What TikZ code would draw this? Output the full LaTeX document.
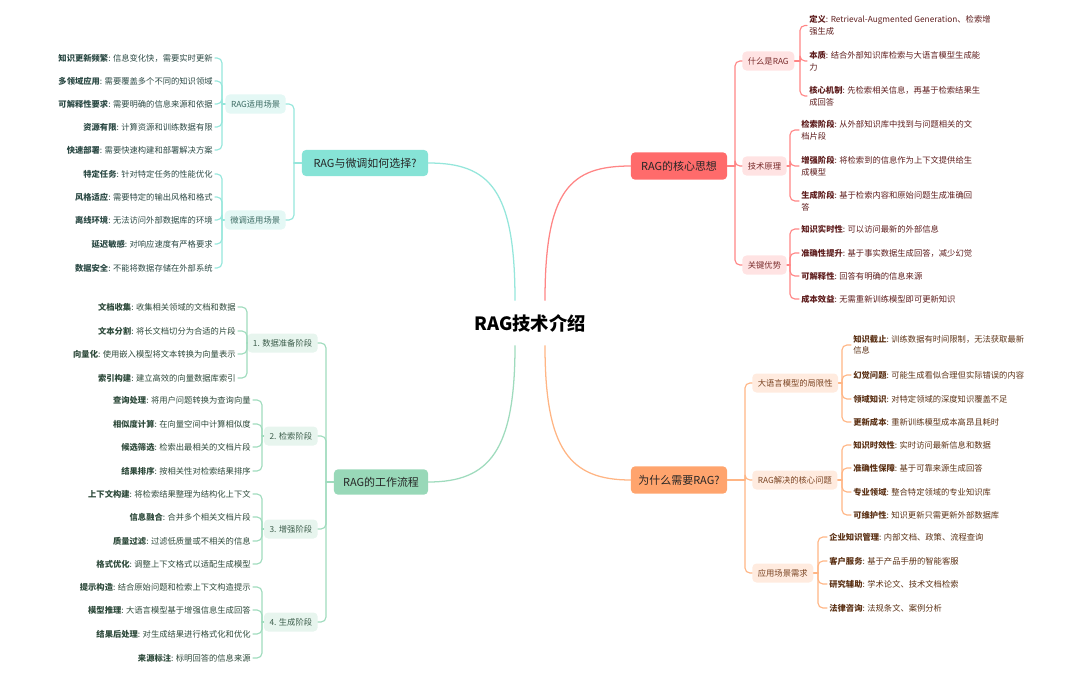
\documentclass[tikz,border=0pt]{standalone}
\usepackage{fontspec}
\setmainfont{Noto Sans CJK SC}
\usetikzlibrary{calc}

\definecolor{redfill}{HTML}{FF6B6B}
\definecolor{redln}{HTML}{FF8585}
\definecolor{redsoft}{HTML}{FFE3E3}
\definecolor{redsubtx}{HTML}{7A2C2C}
\definecolor{redtx}{HTML}{5E1D1D}
\definecolor{tealfill}{HTML}{86E3D6}
\definecolor{tealln}{HTML}{95E6DB}
\definecolor{tealsoft}{HTML}{E4F8F5}
\definecolor{tealsubtx}{HTML}{3C6B63}
\definecolor{tealtx}{HTML}{2C4A45}
\definecolor{greenfill}{HTML}{98D8B8}
\definecolor{greenln}{HTML}{9FDBBD}
\definecolor{greensoft}{HTML}{E7F5EE}
\definecolor{greensubtx}{HTML}{3D5E4C}
\definecolor{greentx}{HTML}{2E4A3B}
\definecolor{orangefill}{HTML}{FFA46D}
\definecolor{orangeln}{HTML}{FFB584}
\definecolor{orangesoft}{HTML}{FFEBDF}
\definecolor{orangesubtx}{HTML}{7B4422}
\definecolor{orangetx}{HTML}{5C3216}

\begin{document}
\begin{tikzpicture}[
  x=0.025cm,
  y=-0.025cm,
  line cap=round,
  line join=round,
  font=\fontsize{5.9}{8.2}\selectfont,
  title/.style={
    font=\fontsize{13}{15}\selectfont\bfseries,
    text=black,
    minimum height=1.125cm,
    inner sep=0pt
  },
  branch/.style={
    rounded corners=2.8pt,
    minimum height=0.68cm,
    inner sep=0pt,
    font=\fontsize{7.8}{9}\selectfont,
    text=black!85
  },
  sub/.style={
    rounded corners=3pt,
    minimum height=0.475cm,
    inner xsep=0.14cm,
    inner ysep=0pt
  },
  leaf/.style={align=left, inner xsep=1.5pt, inner ysep=1pt},
  link/.style={line width=0.8pt, rounded corners=3.5pt},
  stem/.style={line width=0.9pt},
  rsub/.style={sub, fill=redsoft, text=redsubtx, anchor=west},
  rleaf/.style={leaf, text=redtx, anchor=west},
  rlink/.style={link, draw=redln},
  tsub/.style={sub, fill=tealsoft, text=tealsubtx, anchor=east},
  tleaf/.style={leaf, text=tealtx, anchor=east},
  tlink/.style={link, draw=tealln},
  gsub/.style={sub, fill=greensoft, text=greensubtx, anchor=east},
  gleaf/.style={leaf, text=greentx, anchor=east},
  glink/.style={link, draw=greenln},
  osub/.style={sub, fill=orangesoft, text=orangesubtx, anchor=west},
  oleaf/.style={leaf, text=orangetx, anchor=west},
  olink/.style={link, draw=orangeln}
]
\useasboundingbox (0,0) rectangle (1080,677);

\node[title] (root) at (530,323) {RAG技术介绍};

% RAG的核心思想 (upper right)
\node[branch, fill=redfill, minimum width=2.4cm] (rmain) at (679,166) {RAG的核心思想};
\draw[stem, draw=redln] ($(root.north)+(15,0)$) .. controls (545,190) and (570,166) .. (rmain.west);

\coordinate (rj) at (735,166);
\node[rsub] (r1) at (742,61) {什么是RAG};
\node[rsub] (r2) at (742,166) {技术原理};
\node[rsub] (r3) at (742,265) {关键优势};
\draw[rlink] (rmain.east) -- (rj);
\draw[rlink] (rj) |- (r1.west);
\draw[rlink] (rj) |- (r2.west);
\draw[rlink] (rj) |- (r3.west);

\coordinate (r1j) at (800,61);
\node[rleaf] (r1a) at (807,25.5) {\textbf{定义}: Retrieval-Augmented Generation、检索增\\强生成};
\node[rleaf] (r1b) at (807,61) {\textbf{本质}: 结合外部知识库检索与大语言模型生成能\\力};
\node[rleaf] (r1c) at (807,96) {\textbf{核心机制}: 先检索相关信息，再基于检索结果生\\成回答};
\draw[rlink] (r1.east) -- (r1j);
\draw[rlink] (r1j) |- (r1a.west);
\draw[rlink] (r1j) |- (r1b.west);
\draw[rlink] (r1j) |- (r1c.west);

\coordinate (r2j) at (790,166);
\node[rleaf] (r2a) at (799,130) {\textbf{检索阶段}: 从外部知识库中找到与问题相关的文\\档片段};
\node[rleaf] (r2b) at (799,166) {\textbf{增强阶段}: 将检索到的信息作为上下文提供给生\\成模型};
\node[rleaf] (r2c) at (799,201) {\textbf{生成阶段}: 基于检索内容和原始问题生成准确回\\答};
\draw[rlink] (r2.east) -- (r2j);
\draw[rlink] (r2j) |- (r2a.west);
\draw[rlink] (r2j) |- (r2b.west);
\draw[rlink] (r2j) |- (r2c.west);

\coordinate (r3j) at (790,265);
\node[rleaf] (r3a) at (799,229) {\textbf{知识实时性}: 可以访问最新的外部信息};
\node[rleaf] (r3b) at (799,253) {\textbf{准确性提升}: 基于事实数据生成回答，减少幻觉};
\node[rleaf] (r3c) at (799,276) {\textbf{可解释性}: 回答有明确的信息来源};
\node[rleaf] (r3d) at (799,299) {\textbf{成本效益}: 无需重新训练模型即可更新知识};
\draw[rlink] (r3.east) -- (r3j);
\draw[rlink] (r3j) |- (r3a.west);
\draw[rlink] (r3j) |- (r3b.west);
\draw[rlink] (r3j) |- (r3c.west);
\draw[rlink] (r3j) |- (r3d.west);

% 为什么需要RAG? (lower right)
\node[branch, fill=orangefill, minimum width=2.4cm] (omain) at (679,480) {为什么需要RAG?};
\draw[stem, draw=orangeln] ($(root.south)+(15,0)$) .. controls (545,450) and (570,480) .. (omain.west);

\coordinate (oj) at (745,480);
\node[osub] (o1) at (752,383) {大语言模型的局限性};
\node[osub] (o2) at (752,480) {RAG解决的核心问题};
\node[osub] (o3) at (752,573) {应用场景需求};
\draw[olink] (omain.east) -- (oj);
\draw[olink] (oj) |- (o1.west);
\draw[olink] (oj) |- (o2.west);
\draw[olink] (oj) |- (o3.west);

\coordinate (o1j) at (842,383);
\node[oleaf] (o1a) at (851,345) {\textbf{知识截止}: 训练数据有时间限制，无法获取最新\\信息};
\node[oleaf] (o1b) at (851,375) {\textbf{幻觉问题}: 可能生成看似合理但实际错误的内容};
\node[oleaf] (o1c) at (851,399) {\textbf{领域知识}: 对特定领域的深度知识覆盖不足};
\node[oleaf] (o1d) at (851,422) {\textbf{更新成本}: 重新训练模型成本高昂且耗时};
\draw[olink] (o1.east) -- (o1j);
\draw[olink] (o1j) |- (o1a.west);
\draw[olink] (o1j) |- (o1b.west);
\draw[olink] (o1j) |- (o1c.west);
\draw[olink] (o1j) |- (o1d.west);

\coordinate (o2j) at (842,480);
\node[oleaf] (o2a) at (851,445) {\textbf{知识时效性}: 实时访问最新信息和数据};
\node[oleaf] (o2b) at (851,468) {\textbf{准确性保障}: 基于可靠来源生成回答};
\node[oleaf] (o2c) at (851,492) {\textbf{专业领域}: 整合特定领域的专业知识库};
\node[oleaf] (o2d) at (851,515) {\textbf{可维护性}: 知识更新只需更新外部数据库};
\draw[olink] (o2.east) -- (o2j);
\draw[olink] (o2j) |- (o2a.west);
\draw[olink] (o2j) |- (o2b.west);
\draw[olink] (o2j) |- (o2c.west);
\draw[olink] (o2j) |- (o2d.west);

\coordinate (o3j) at (818,573);
\node[oleaf] (o3a) at (827,537) {\textbf{企业知识管理}: 内部文档、政策、流程查询};
\node[oleaf] (o3b) at (827,561) {\textbf{客户服务}: 基于产品手册的智能客服};
\node[oleaf] (o3c) at (827,584) {\textbf{研究辅助}: 学术论文、技术文档检索};
\node[oleaf] (o3d) at (827,608) {\textbf{法律咨询}: 法规条文、案例分析};
\draw[olink] (o3.east) -- (o3j);
\draw[olink] (o3j) |- (o3a.west);
\draw[olink] (o3j) |- (o3b.west);
\draw[olink] (o3j) |- (o3c.west);
\draw[olink] (o3j) |- (o3d.west);

% RAG与微调如何选择? (upper left)
\node[branch, fill=tealfill, minimum width=3.15cm, minimum height=0.65cm] (tmain) at (365,163) {RAG与微调如何选择?};
\draw[stem, draw=tealln] ($(root.north)+(-15,0)$) .. controls (515,190) and (490,163) .. (tmain.east);

\coordinate (tj) at (294,163);
\node[tsub] (t1) at (286,104) {RAG适用场景};
\node[tsub] (t2) at (286,220) {微调适用场景};
\draw[tlink] (tmain.west) -- (tj);
\draw[tlink] (tj) |- (t1.east);
\draw[tlink] (tj) |- (t2.east);

\coordinate (t1j) at (222,104);
\node[tleaf] (t1a) at (215,58) {\textbf{知识更新频繁}: 信息变化快，需要实时更新};
\node[tleaf] (t1b) at (215,81) {\textbf{多领域应用}: 需要覆盖多个不同的知识领域};
\node[tleaf] (t1c) at (215,104) {\textbf{可解释性要求}: 需要明确的信息来源和依据};
\node[tleaf] (t1d) at (215,127) {\textbf{资源有限}: 计算资源和训练数据有限};
\node[tleaf] (t1e) at (215,150) {\textbf{快速部署}: 需要快速构建和部署解决方案};
\draw[tlink] (t1.west) -- (t1j);
\draw[tlink] (t1j) |- (t1a.east);
\draw[tlink] (t1j) |- (t1b.east);
\draw[tlink] (t1j) |- (t1c.east);
\draw[tlink] (t1j) |- (t1d.east);
\draw[tlink] (t1j) |- (t1e.east);

\coordinate (t2j) at (222,220);
\node[tleaf] (t2a) at (215,174) {\textbf{特定任务}: 针对特定任务的性能优化};
\node[tleaf] (t2b) at (215,197) {\textbf{风格适应}: 需要特定的输出风格和格式};
\node[tleaf] (t2c) at (215,220) {\textbf{离线环境}: 无法访问外部数据库的环境};
\node[tleaf] (t2d) at (215,244) {\textbf{延迟敏感}: 对响应速度有严格要求};
\node[tleaf] (t2e) at (215,268) {\textbf{数据安全}: 不能将数据存储在外部系统};
\draw[tlink] (t2.west) -- (t2j);
\draw[tlink] (t2j) |- (t2a.east);
\draw[tlink] (t2j) |- (t2b.east);
\draw[tlink] (t2j) |- (t2c.east);
\draw[tlink] (t2j) |- (t2d.east);
\draw[tlink] (t2j) |- (t2e.east);

% RAG的工作流程 (lower left)
\node[branch, fill=greenfill, minimum width=2.35cm, minimum height=0.63cm] (gmain) at (381,482) {RAG的工作流程};
\draw[stem, draw=greenln] ($(root.south)+(-15,0)$) .. controls (515,450) and (490,482) .. (gmain.east);

\coordinate (gj) at (326,482);
\node[gsub] (g1) at (318,343) {1. 数据准备阶段};
\node[gsub] (g2) at (318,436) {2. 检索阶段};
\node[gsub] (g3) at (318,529) {3. 增强阶段};
\node[gsub] (g4) at (318,622) {4. 生成阶段};
\draw[glink] (gmain.west) -- (gj);
\draw[glink] (gj) |- (g1.east);
\draw[glink] (gj) |- (g2.east);
\draw[glink] (gj) |- (g3.east);
\draw[glink] (gj) |- (g4.east);

\coordinate (g1j) at (247,343);
\node[gleaf] (g1a) at (238,307) {\textbf{文档收集}: 收集相关领域的文档和数据};
\node[gleaf] (g1b) at (238,331) {\textbf{文本分割}: 将长文档切分为合适的片段};
\node[gleaf] (g1c) at (238,354) {\textbf{向量化}: 使用嵌入模型将文本转换为向量表示};
\node[gleaf] (g1d) at (238,378) {\textbf{索引构建}: 建立高效的向量数据库索引};
\draw[glink] (g1.west) -- (g1j);
\draw[glink] (g1j) |- (g1a.east);
\draw[glink] (g1j) |- (g1b.east);
\draw[glink] (g1j) |- (g1c.east);
\draw[glink] (g1j) |- (g1d.east);

\coordinate (g2j) at (262,436);
\node[gleaf] (g2a) at (253,400) {\textbf{查询处理}: 将用户问题转换为查询向量};
\node[gleaf] (g2b) at (253,424) {\textbf{相似度计算}: 在向量空间中计算相似度};
\node[gleaf] (g2c) at (253,447) {\textbf{候选筛选}: 检索出最相关的文档片段};
\node[gleaf] (g2d) at (253,471) {\textbf{结果排序}: 按相关性对检索结果排序};
\draw[glink] (g2.west) -- (g2j);
\draw[glink] (g2j) |- (g2a.east);
\draw[glink] (g2j) |- (g2b.east);
\draw[glink] (g2j) |- (g2c.east);
\draw[glink] (g2j) |- (g2d.east);

\coordinate (g3j) at (262,529);
\node[gleaf] (g3a) at (253,494) {\textbf{上下文构建}: 将检索结果整理为结构化上下文};
\node[gleaf] (g3b) at (253,517) {\textbf{信息融合}: 合并多个相关文档片段};
\node[gleaf] (g3c) at (253,541) {\textbf{质量过滤}: 过滤低质量或不相关的信息};
\node[gleaf] (g3d) at (253,564) {\textbf{格式优化}: 调整上下文格式以适配生成模型};
\draw[glink] (g3.west) -- (g3j);
\draw[glink] (g3j) |- (g3a.east);
\draw[glink] (g3j) |- (g3b.east);
\draw[glink] (g3j) |- (g3c.east);
\draw[glink] (g3j) |- (g3d.east);

\coordinate (g4j) at (262,622);
\node[gleaf] (g4a) at (253,587) {\textbf{提示构造}: 结合原始问题和检索上下文构造提示};
\node[gleaf] (g4b) at (253,610) {\textbf{模型推理}: 大语言模型基于增强信息生成回答};
\node[gleaf] (g4c) at (253,634) {\textbf{结果后处理}: 对生成结果进行格式化和优化};
\node[gleaf] (g4d) at (253,658) {\textbf{来源标注}: 标明回答的信息来源};
\draw[glink] (g4.west) -- (g4j);
\draw[glink] (g4j) |- (g4a.east);
\draw[glink] (g4j) |- (g4b.east);
\draw[glink] (g4j) |- (g4c.east);
\draw[glink] (g4j) |- (g4d.east);

\end{tikzpicture}
\end{document}
